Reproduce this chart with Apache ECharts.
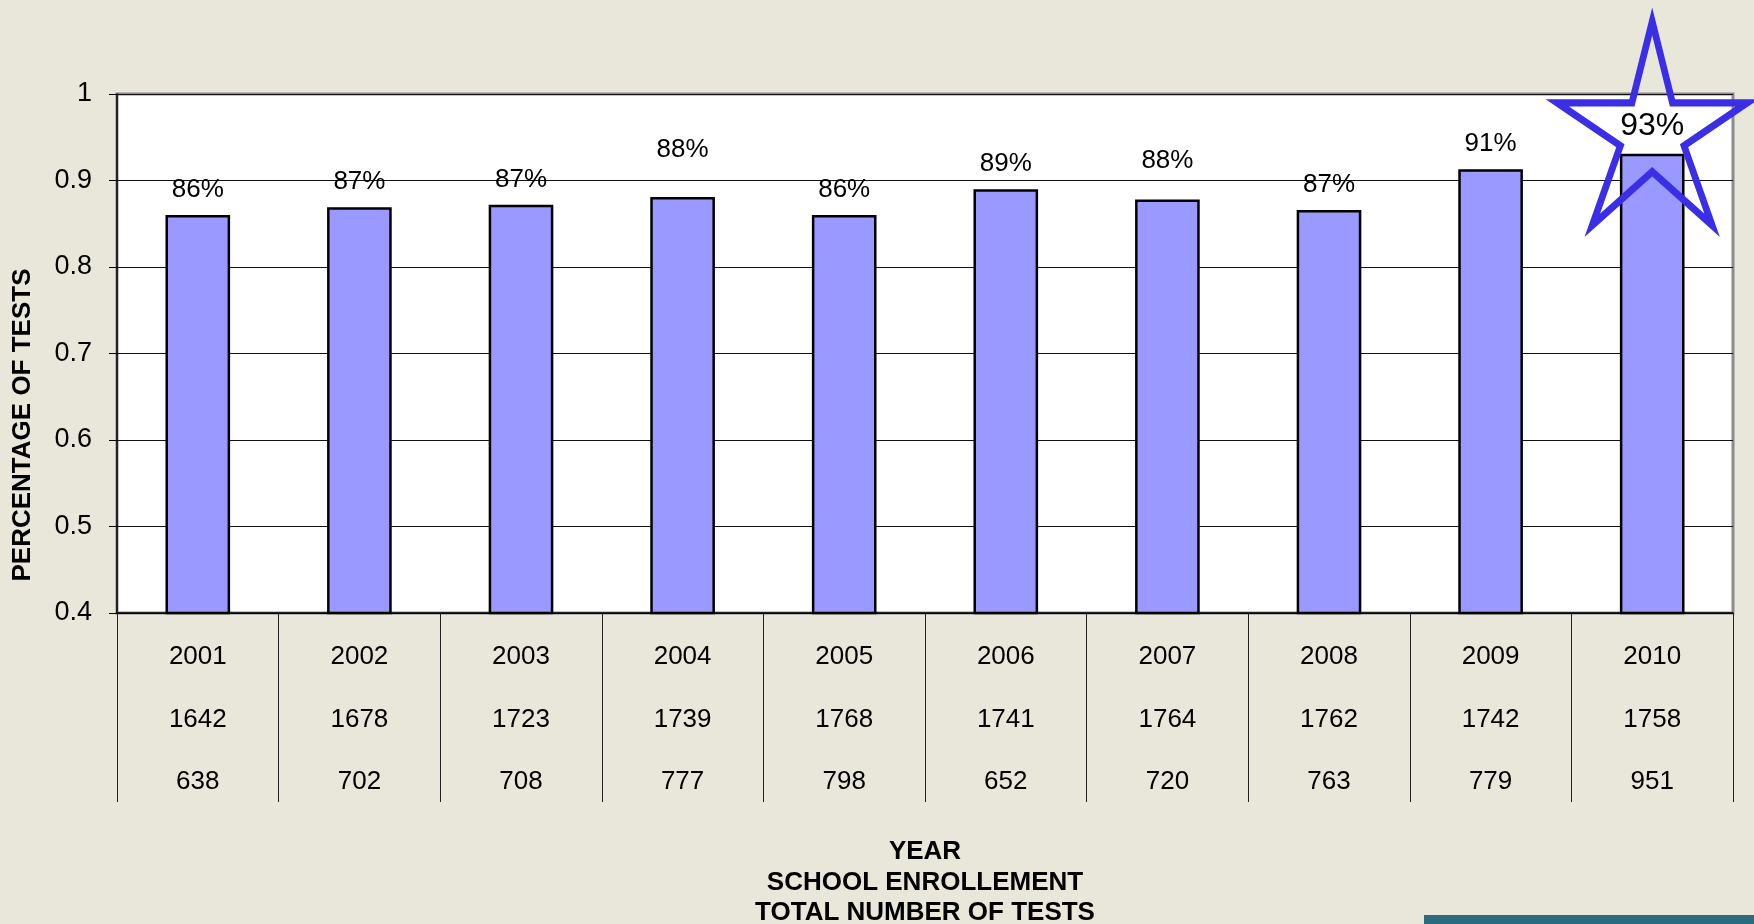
<!DOCTYPE html>
<html>
<head>
<meta charset="utf-8">
<script src="https://cdn.jsdelivr.net/npm/echarts@6/dist/echarts.min.js"></script>
<style>
  html, body { margin: 0; padding: 0; background: #e8e7da; }
  #container { width: 1754px; height: 924px; }
</style>
</head>
<body>
<div id="container"></div>
<script>
// chart data
const years = ['2001', '2002', '2003', '2004', '2005', '2006', '2007', '2008', '2009', '2010'];
const enrollment = [1642, 1678, 1723, 1739, 1768, 1741, 1764, 1762, 1742, 1758];
const totalTests = [638, 702, 708, 777, 798, 652, 720, 763, 779, 951];
const passRate = [0.860, 0.869, 0.872, 0.881, 0.860, 0.890, 0.878, 0.866, 0.913, 0.931];
const yTicks = [0.4, 0.5, 0.6, 0.7, 0.8, 0.9, 1];

// the highlighted year (drawn with a star round it)
const starYear = '2010';
const starValue = 0.966;

const FONT = '"Liberation Sans", Arial, sans-serif';

const dom = document.getElementById('container');
const myChart = echarts.init(dom);

// some labels sit higher on the slide than the rest
const labelRaise = { '2004': 22, '2007': 14 };

const barData = passRate.map(function (v, i) {
    const year = years[i];
    const item = {
        value: v,
        label: { distance: 12 + (labelRaise[year] || 0) }
    };
    if (year === starYear) {
        item.label.fontSize = 32;
    }
    return item;
});

const option = {
    backgroundColor: '#e8e7da',
    animation: false,
    textStyle: { fontFamily: FONT },
    grid: {
        left: 117,
        right: 21,
        top: 94,
        bottom: 311,
        outerBoundsMode: 'none',
        containLabel: false,
        show: true,
        backgroundColor: '#ffffff',
        borderColor: '#8a8a8a',
        borderWidth: 3
    },
    xAxis: {
        type: 'category',
        data: years,
        axisLine: { lineStyle: { color: '#000', width: 1.5 } },
        axisTick: {
            show: true,
            interval: 0,
            length: 189,
            lineStyle: { color: '#222', width: 1 }
        },
        axisLabel: {
            interval: 0,
            margin: 13,
            fontSize: 26,
            lineHeight: 62.5,
            color: '#000',
            fontFamily: FONT,
            formatter: function (val, idx) {
                return val + '\n' + enrollment[idx] + '\n' + totalTests[idx];
            }
        },
        name: 'YEAR\nSCHOOL ENROLLEMENT\nTOTAL NUMBER OF TESTS',
        nameLocation: 'middle',
        nameGap: 224,
        nameTextStyle: {
            fontSize: 26,
            fontWeight: 'bold',
            lineHeight: 30.5,
            color: '#000',
            fontFamily: FONT
        }
    },
    yAxis: {
        type: 'value',
        min: yTicks[0],
        max: yTicks[yTicks.length - 1],
        interval: 0.1,
        axisLine: { show: true, lineStyle: { color: '#000', width: 1.5 } },
        axisTick: { show: true, length: 8, lineStyle: { color: '#000' } },
        axisLabel: {
            margin: 25,
            fontSize: 27,
            color: '#000',
            fontFamily: FONT,
            formatter: function (v) {
                return String(+v.toFixed(1));
            }
        },
        splitLine: { lineStyle: { color: '#111', width: 1 } }
    },
    graphic: [
        {
            type: 'text',
            x: 23,
            y: 425,
            rotation: Math.PI / 2,
            style: {
                text: 'PERCENTAGE OF TESTS',
                fill: '#000',
                font: 'bold 26px ' + FONT,
                textAlign: 'center',
                textVerticalAlign: 'middle'
            }
        },
        {
            type: 'rect',
            shape: { x: 1424, y: 915, width: 330, height: 9 },
            style: { fill: '#2e6a7e' }
        }
    ],
    series: [
        {
            type: 'bar',
            data: barData,
            barWidth: '40%',
            itemStyle: {
                color: '#9999ff',
                borderColor: '#000',
                borderWidth: 2.5
            },
            label: {
                show: true,
                position: 'top',
                fontSize: 26,
                color: '#000',
                fontFamily: FONT,
                formatter: function (p) {
                    return Math.round(p.value * 100) + '%';
                }
            },
            markPoint: {
                silent: true,
                symbol: 'path://M103 0 L125 91 L206 91 L137.5 139 L168 228 L103 168 L38 228 L68.5 139 L0 91 L81 91 Z',
                symbolSize: [190, 204],
                itemStyle: {
                    color: 'rgba(0,0,0,0)',
                    borderColor: '#3a2fe6',
                    borderWidth: 7
                },
                label: { show: false },
                data: [{ coord: [starYear, starValue] }]
            }
        }
    ]
};

myChart.setOption(option, true);
</script>
</body>
</html>
